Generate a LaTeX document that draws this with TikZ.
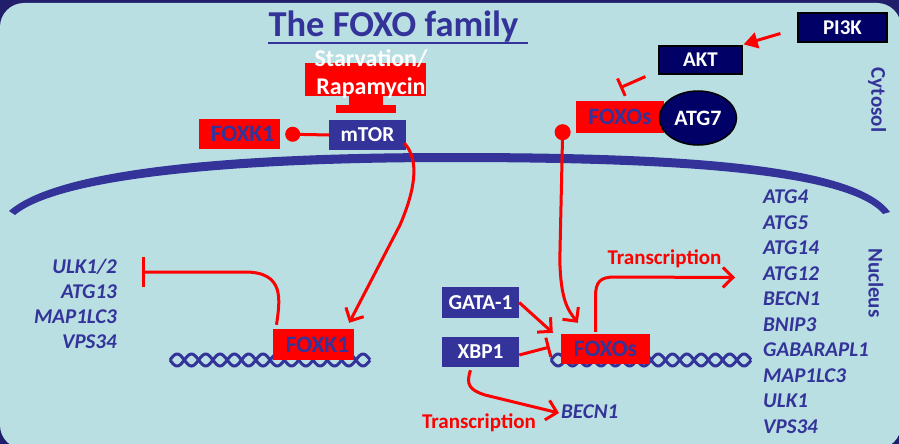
\documentclass[tikz,border=0pt]{standalone}
\usepackage{fontspec}
\setmainfont{Carlito}
\usetikzlibrary{arrows.meta,shapes.geometric,calc}
\definecolor{tblue}{HTML}{333399}
\definecolor{navy}{HTML}{000066}
\definecolor{bgc}{HTML}{B9DFE3}
\definecolor{framec}{HTML}{211F6B}
\begin{document}
\begin{tikzpicture}[x=1pt,y=-1pt,
  redbox/.style={fill=red, text=tblue, inner sep=0pt, font=\bfseries\fontsize{23.5}{23.5}\selectfont},
  blubox/.style={fill=tblue, text=white, inner sep=0pt, font=\bfseries\fontsize{21.3}{21.3}\selectfont},
  navybox/.style={fill=navy, draw=black, line width=1.2pt, text=white, inner sep=0pt, font=\bfseries\fontsize{21}{21}\selectfont},
  conn/.style={draw=red, line width=3pt},
  act/.style={conn, -{Straight Barb[length=10pt,width=20pt]}},
  inh/.style={conn, -{Bar[width=20pt]}},
  gene/.style={text=tblue, inner sep=0pt, font=\bfseries\itshape\fontsize{21}{21}\selectfont},
  lbl/.style={text=red, inner sep=0pt, font=\bfseries\fontsize{21}{21}\selectfont},
  side/.style={text=tblue, inner sep=0pt, rotate=-90, font=\bfseries\fontsize{21}{21}\selectfont},
  dna/.style={draw=tblue, line width=3pt}
]
\useasboundingbox (0,0) rectangle (899,444);
% background
\fill[framec] (0,0) rectangle (899,444);
\fill[bgc, rounded corners=24pt] (0,3) rectangle (901,449);

% title
\node[text=tblue, inner sep=0pt, anchor=base, font=\bfseries\fontsize{36.5}{36.5}\selectfont] (title) at (393.5,37) {The FOXO family};
\draw[tblue, line width=2pt] ($(title.base west)+(0,6)$) -- ($(title.base east)+(9,6)$);

% nuclear membrane
\fill[tblue] (9,211) .. controls (60,166) and (250,153) .. (450,153) .. controls (650,153) and (852,160) .. (890,212)
  -- (883,214) .. controls (846,170) and (650,162) .. (450,162) .. controls (250,162) and (62,176) .. (15,215) -- cycle;

% DNA
\foreach \xa in {170,551}{
  \draw[dna] plot[domain=0:200, samples=160] ({\xa+\x}, {360+6*sin(\x*12.587)});
  \draw[dna] plot[domain=0:200, samples=160] ({\xa+\x}, {360-6*sin(\x*12.587)});
}

% labels
\node[side] (cyto) at (877,100) {Cytosol};
\node[side] (nucl) at (876,283) {Nucleus};

% cytosol nodes
\node[redbox, minimum width=121pt, minimum height=33pt] (starv) at (365.5,79.5) {};
\node[text=white, inner sep=0pt, align=center, font=\bfseries\fontsize{24}{28}\selectfont] (starvt) at (371,74) {Starvation/\\Rapamycin};
\fill[red] ($(starv.south)+(-17,0)$) rectangle ($(starv.south)+(17,9)$);
\fill[red] ($(starv.south)+(-30,9)$) rectangle ($(starv.south)+(30,17)$);

\node[blubox, minimum width=77pt, minimum height=30pt] (mtor) at (367.5,135) {mTOR};
\node[redbox, minimum width=81pt, minimum height=30pt] (foxkt) at (239.5,134) {\hspace{6pt}FOXK1};
\node[navybox, minimum width=89pt, minimum height=29pt] (pi3k) at (842.5,27.5) {PI3K};
\node[navybox, minimum width=83pt, minimum height=28pt] (akt) at (700.5,60) {AKT};
\node[redbox, minimum width=88pt, minimum height=32pt] (foxot) at (620,117) {FOXOs};
\node[ellipse, fill=navy, draw=black, line width=1.5pt, text=white, inner sep=0pt, minimum width=77pt, minimum height=54pt, font=\bfseries\fontsize{22}{22}\selectfont] (atg7) at (698,118) {ATG7};

% nucleus nodes
\node[blubox, minimum width=77pt, minimum height=31pt] (gata) at (480.5,302.5) {GATA-1};
\node[blubox, minimum width=77pt, minimum height=30pt] (xbp1) at (480.5,352) {XBP1};
\node[redbox, minimum width=81pt, minimum height=31pt] (foxkn) at (313.5,344.5) {\hspace{8pt}FOXK1};
\node[redbox, minimum width=89pt, minimum height=30pt] (foxon) at (605.5,349) {FOXOs};

% gene lists
\node[gene, anchor=east] (l1) at (117,267) {ULK1/2};
\node[gene, anchor=east] (l2) at (117,292) {ATG13};
\node[gene, anchor=east] (l3) at (117,317) {MAP1LC3};
\node[gene, anchor=east] (l4) at (117,342) {VPS34};
\foreach \g [count=\i from 0] in {ATG4,ATG5,ATG14,ATG12,BECN1,BNIP3,GABARAPL1,MAP1LC3,ULK1,VPS34}{
  \node[gene, anchor=west] (g\i) at (763,{197+25.5*\i}) {\g};
}
\node[gene, anchor=west] (becn) at (561,412) {BECN1};
\node[lbl] (tr1) at (664.5,259) {Transcription};
\node[lbl] (tr2) at (479,423) {Transcription};

% connectors
\draw[conn, -{Circle[length=15pt]}, shorten >=5pt] (mtor.west) -- (foxkt.east);
\draw[conn, -{Triangle[length=14pt,width=16pt]}] (pi3k.west) ++(-17,6) -- ($(akt.north east)+(1,-1)$);
\draw[inh, -{Bar[width=19pt]}] ($(akt.south west)+(-13,2)$) -- ($(foxot.north)+(0,-13)$);
\coordinate (dot) at ($(foxot.south west)+(-13,-9)$);
\draw[conn, {Circle[length=16pt]}-{Straight Barb[length=10pt,width=20pt]}] (dot) -- ++(-3,136) .. controls ++(1,40) and ++(-10,-13) .. ($(foxon.north west)+(17,-11)$);
\draw[act] ($(mtor.east)+(-2,8)$) .. controls (420,160) and (415,190) .. (400,225) -- ($(foxkn.north east)+(-5,-6)$);
\draw[inh, -{Bar[width=30pt]}] ($(foxkn.north)+(-37,-4)$) .. controls (280,300) and (285,272) .. (245,272) -- ($(l1.east)+(25,5)$);
\draw[act] (gata.east) -- ($(foxon.north west)+(-8,-1)$);
\draw[inh] (xbp1.east) ++(0,3) -- ($(foxon.west)+(-11,-2)$);
\draw[act] ($(foxon.north)+(-10,-2)$) -- ++(0,-35) .. controls ++(0,-15) and ++(-15,0) .. (615,277) -- ($(g3.west)+(-28,4)$);
\draw[act] ($(xbp1.south)+(-10,3)$) .. controls ++(-5,15) and ++(-15,-5) .. (485,395) -- ($(becn.west)+(-2,1)$);
\end{tikzpicture}
\end{document}
